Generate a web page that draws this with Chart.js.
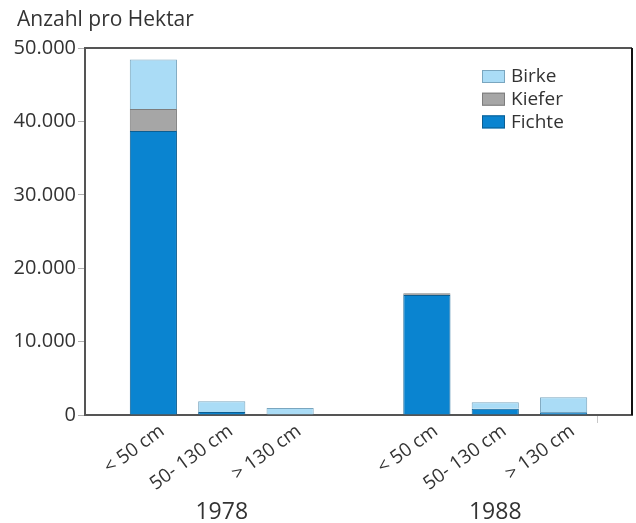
<!DOCTYPE html>
<html>
<head>
<meta charset="utf-8">
<script src="https://cdn.jsdelivr.net/npm/chart.js@4/dist/chart.umd.min.js"></script>
<style>
  html, body { margin: 0; padding: 0; background: #fff; }
  #wrap { width: 636px; height: 523px; }
</style>
</head>
<body>
<div id="wrap"><canvas id="treeChart" width="636" height="523"></canvas></div>
<script>
// Categories (empty slots give the gap between the two years)
const categories = ['', '< 50 cm', '50- 130 cm', '> 130 cm', '', '< 50 cm', '50- 130 cm', '> 130 cm', ''];
const years = ['1978', '1988'];
const yearSlots = [2, 6];

// Trees per hectare
const fichte = [null, 38700, 400, 0, null, 16350, 860, 370, null];
const kiefer = [null, 3000, 0, 0, null, 250, 0, 0, null];
const birke = [null, 6750, 1470, 950, null, 0, 870, 2040, null];

const yTicks = [0, 10000, 20000, 30000, 40000, 50000];

const FONT = '"Open Sans", "Noto Sans", sans-serif';
const TEXT = '#333333';

// German thousands separator
function formatNumber(v) {
  return v.toString().replace(/\B(?=(\d{3})+(?!\d))/g, '.');
}

// Frame, legend, title, slanted category labels and year labels
const extras = {
  id: 'extras',
  afterDraw(chart) {
    const { ctx, chartArea, scales } = chart;
    ctx.save();

    // top + right border
    ctx.lineWidth = 2;
    ctx.strokeStyle = '#555555';
    ctx.beginPath();
    ctx.moveTo(chartArea.left, chartArea.top);
    ctx.lineTo(chartArea.right, chartArea.top);
    ctx.stroke();
    ctx.strokeStyle = '#111111';
    ctx.beginPath();
    ctx.moveTo(chartArea.right, chartArea.top);
    ctx.lineTo(chartArea.right, chartArea.bottom);
    ctx.stroke();

    // title
    ctx.fillStyle = TEXT;
    ctx.font = '21px ' + FONT;
    ctx.textAlign = 'left';
    ctx.textBaseline = 'middle';
    ctx.fillText('Anzahl pro Hektar', 17, 20);

    // legend, top dataset first
    const sets = chart.data.datasets.slice().reverse();
    sets.forEach((ds, i) => {
      const x = chartArea.right - 150;
      const y = chartArea.top + 22 + i * 22.7;
      ctx.fillStyle = ds.backgroundColor;
      ctx.fillRect(x, y, 23, 13);
      ctx.lineWidth = 1;
      ctx.strokeStyle = ds.borderColor;
      ctx.strokeRect(x + 0.5, y + 0.5, 22, 12);
      ctx.fillStyle = TEXT;
      ctx.font = '19px ' + FONT;
      ctx.textAlign = 'left';
      ctx.textBaseline = 'middle';
      ctx.fillText(ds.label, x + 29, y + 7);
    });

    // category labels, slanted, ending just right of each bar centre
    ctx.font = '19px ' + FONT;
    ctx.textAlign = 'right';
    ctx.textBaseline = 'middle';
    categories.forEach((label, i) => {
      if (!label) return;
      ctx.save();
      ctx.translate(scales.x.getPixelForValue(i) + 9, chartArea.bottom + 14);
      ctx.rotate(-36 * Math.PI / 180);
      ctx.fillText(label, 0, 0);
      ctx.restore();
    });

    // year labels under each group
    ctx.font = '23px ' + FONT;
    ctx.textAlign = 'center';
    ctx.fillStyle = TEXT;
    years.forEach((yr, i) => {
      ctx.fillText(yr, scales.x.getPixelForValue(yearSlots[i]), 512);
    });

    ctx.restore();
  }
};

const ctx = document.getElementById('treeChart').getContext('2d');
new Chart(ctx, {
  type: 'bar',
  data: {
    labels: categories,
    datasets: [
      { label: 'Fichte', data: fichte, backgroundColor: '#0a84d0', borderColor: '#0b5e92', borderWidth: 1 },
      { label: 'Kiefer', data: kiefer, backgroundColor: '#a6a6a6', borderColor: '#7d7d7d', borderWidth: 1 },
      { label: 'Birke', data: birke, backgroundColor: '#aadcf6', borderColor: '#7aa6bf', borderWidth: 1 }
    ]
  },
  options: {
    responsive: false,
    animation: false,
    barPercentage: 0.69,
    categoryPercentage: 1,
    layout: { padding: { top: 48, right: 4, left: 0, bottom: 0 } },
    plugins: {
      legend: { display: false },
      tooltip: { enabled: false }
    },
    scales: {
      x: {
        stacked: true,
        offset: false,
        afterFit: scale => {
          scale.height = 108;
          scale.paddingLeft = 0;
          scale.paddingRight = 0;
        },
        border: { color: '#555555', width: 2 },
        grid: {
          drawOnChartArea: false,
          tickLength: 8,
          tickColor: c => (c.index === 0 || c.index === categories.length - 1) ? '#c8c8c8' : 'rgba(0,0,0,0)'
        },
        ticks: { display: false, autoSkip: false }
      },
      y: {
        stacked: true,
        min: 0,
        max: 50000,
        afterFit: scale => { scale.width = 85; },
        afterBuildTicks: scale => { scale.ticks = yTicks.map(v => ({ value: v })); },
        border: { color: '#555555', width: 2 },
        grid: { drawOnChartArea: false, tickLength: 7, tickColor: '#b0b0b0' },
        ticks: {
          color: TEXT,
          font: { family: FONT, size: 20 },
          padding: 2,
          callback: v => formatNumber(v)
        }
      }
    }
  },
  plugins: [extras]
});
</script>
</body>
</html>
